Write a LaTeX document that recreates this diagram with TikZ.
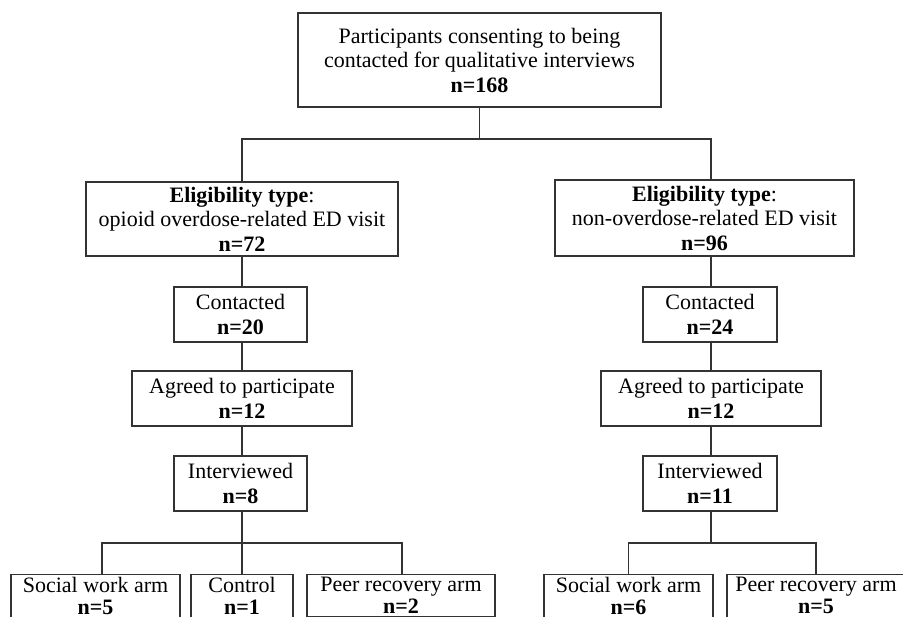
\documentclass[tikz,border=0pt]{standalone}
\usepackage{fontspec}
\setmainfont{Liberation Serif}
\begin{document}
\begin{tikzpicture}[x=1pt,y=-1pt,
  box/.style={draw=black!80,line width=1.1pt,inner sep=0pt,align=center,
    font=\fontsize{22}{24.5}\selectfont,text=black},
  arm/.style={box,anchor=north,inner xsep=0pt,inner ysep=3pt,
    font=\fontsize{22}{22.5}\selectfont},
  conn/.style={draw=black!80,line width=1.1pt}]
\useasboundingbox (0,0) rectangle (903,617);
\clip (0,0) rectangle (903,617);
% top
\node[box,minimum width=363pt,minimum height=94pt] (top) at (479.5,60)
  {Participants consenting to being\\contacted for qualitative interviews\\\textbf{n=168}};
% eligibility
\node[box,minimum width=312pt,minimum height=74pt] (eL) at (242,219)
  {\textbf{Eligibility type}:\\opioid overdose-related ED visit\\\textbf{n=72}};
\node[box,minimum width=299pt,minimum height=76pt] (eR) at (704.5,218)
  {\textbf{Eligibility type}:\\non-overdose-related ED visit\\\textbf{n=96}};
% contacted
\node[box,minimum width=133pt,minimum height=55pt] (cL) at (240.5,314.5) {Contacted\\\textbf{n=20}};
\node[box,minimum width=134pt,minimum height=55pt] (cR) at (710,314.5) {Contacted\\\textbf{n=24}};
% agreed
\node[box,minimum width=220pt,minimum height=55pt] (aL) at (242,398.5) {Agreed to participate\\\textbf{n=12}};
\node[box,minimum width=220pt,minimum height=55pt] (aR) at (711,398.5) {Agreed to participate\\\textbf{n=12}};
% interviewed
\node[box,minimum width=133pt,minimum height=55pt] (iL) at (240.5,483.5) {Interviewed\\\textbf{n=8}};
\node[box,minimum width=134pt,minimum height=55pt] (iR) at (710,483.5) {Interviewed\\\textbf{n=11}};
% arms (bottom edges fall below the picture)
\node[arm,minimum width=169pt] (sL) at (95.5,573.5) {Social work arm\\\textbf{n=5}};
\node[arm,minimum width=102pt] (ct) at (242,573.5) {Control\\\textbf{n=1}};
\node[arm,minimum width=188pt] (pL) at (401,573.5) {Peer recovery arm\\\textbf{n=2}};
\node[arm,minimum width=169pt] (sR) at (628.5,573.5) {Social work arm\\\textbf{n=6}};
\node[arm,minimum width=178pt] (pR) at (816,573.5) {Peer recovery arm\\\textbf{n=5}};
% bus coordinates
\coordinate (b0) at (479.5,139);
\coordinate (bL) at (242,139);
\coordinate (bR) at (711,139);
\coordinate (cLx) at (242,0);
\coordinate (cRx) at (711,0);
\coordinate (dL1) at (102,543);
\coordinate (dL2) at (242,543);
\coordinate (dL3) at (402,543);
\coordinate (dR1) at (628.5,543);
\coordinate (dR2) at (711,543);
\coordinate (dR3) at (816,543);
% connectors
\draw[conn] (top.south) -- (b0);
\draw[conn] (eL.north -| bL) -- (bL) -- (bR) -- (eR.north -| bR);
\draw[conn] (eL.south -| cLx) -- (cL.north -| cLx);
\draw[conn] (cL.south -| cLx) -- (aL.north -| cLx);
\draw[conn] (aL.south -| cLx) -- (iL.north -| cLx);
\draw[conn] (iL.south -| cLx) -- (dL2);
\draw[conn] (sL.north -| dL1) -- (dL1) -- (dL3) -- (pL.north -| dL3);
\draw[conn] (dL2) -- (ct.north);
\draw[conn] (eR.south -| cRx) -- (cR.north -| cRx);
\draw[conn] (cR.south -| cRx) -- (aR.north -| cRx);
\draw[conn] (aR.south -| cRx) -- (iR.north -| cRx);
\draw[conn] (iR.south -| cRx) -- (dR2);
\draw[conn] (sR.north -| dR1) -- (dR1) -- (dR3) -- (pR.north -| dR3);
\end{tikzpicture}
\end{document}
